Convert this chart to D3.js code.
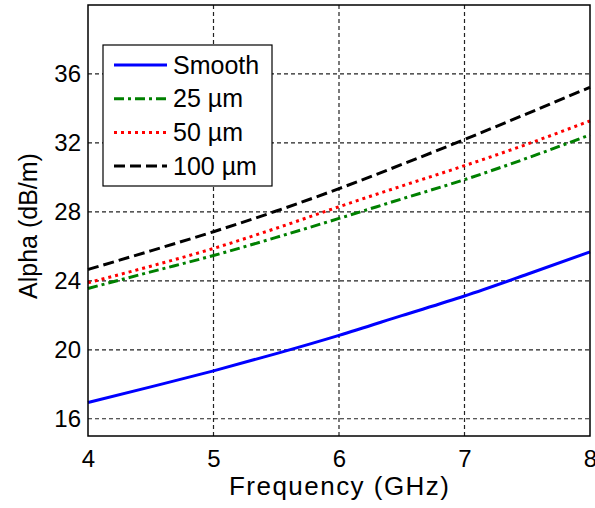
<!DOCTYPE html>
<html>
<head>
<meta charset="utf-8">
<script src="https://cdn.jsdelivr.net/npm/d3@7"></script>
<style>
  body { margin: 0; background: #fff; }
  text { font-family: Arial, "Liberation Sans", sans-serif; fill: #000; }
</style>
</head>
<body>
<div id="chart"></div>
<script>
// frequency (GHz)
var freq = [4, 4.5, 5, 5.5, 6, 6.5, 7, 7.5, 8];
// alpha (dB/m)
var smooth = [16.94, 17.85, 18.78, 19.78, 20.84, 21.98, 23.12, 24.38, 25.68];
var um25   = [23.56, 24.52, 25.47, 26.52, 27.62, 28.75, 29.87, 31.12, 32.47];
var um50   = [23.89, 24.85, 25.88, 27.05, 28.3, 29.5, 30.68, 31.93, 33.28];
var um100  = [24.66, 25.74, 26.85, 28.05, 29.35, 30.75, 32.2, 33.7, 35.23];

var seriesNames = ["Smooth", "25 µm", "50 µm", "100 µm"];
var xTicks = [4, 5, 6, 7, 8];
var yTicks = [16, 20, 24, 28, 32, 36];

var series = [
  {name: seriesNames[0], values: smooth, color: "#0000ff", dash: null},
  {name: seriesNames[1], values: um25, color: "#008000", dash: "10,4,3,4"},
  {name: seriesNames[2], values: um50, color: "#ff0000", dash: "3,4"},
  {name: seriesNames[3], values: um100, color: "#000000", dash: "11,5"}
];

var W = 595, H = 508;
var margin = {top: 5, right: 5, bottom: 72, left: 88};
var width = W - margin.left - margin.right,
    height = H - margin.top - margin.bottom;

var svg = d3.select("#chart").append("svg")
  .attr("width", W)
  .attr("height", H);

var g = svg.append("g")
  .attr("transform", "translate(" + margin.left + "," + margin.top + ")");

var x = d3.scaleLinear().domain([4, 8]).range([0, width]);
var y = d3.scaleLinear().domain([15, 40]).range([height, 0]);

// grid
g.append("g").selectAll("line")
  .data(xTicks.slice(1, -1))
  .enter().append("line")
    .attr("x1", d => x(d)).attr("x2", d => x(d))
    .attr("y1", 0).attr("y2", height)
    .style("stroke", "#222").style("stroke-width", 1.2)
    .style("stroke-dasharray", "4,3");

g.append("g").selectAll("line")
  .data(yTicks)
  .enter().append("line")
    .attr("x1", 0).attr("x2", width)
    .attr("y1", d => y(d)).attr("y2", d => y(d))
    .style("stroke", "#222").style("stroke-width", 1.2)
    .style("stroke-dasharray", "4,3");

// axes
var xAxis = g.append("g")
  .attr("transform", "translate(0," + height + ")")
  .call(d3.axisBottom(x).tickValues(xTicks).tickFormat(d3.format("d")).tickSize(0).tickPadding(14));
xAxis.select(".domain").remove();
xAxis.selectAll("text").style("font-size", "24px").style("fill", "#000");

var yAxis = g.append("g")
  .call(d3.axisLeft(y).tickValues(yTicks).tickSize(0).tickPadding(7));
yAxis.select(".domain").remove();
yAxis.selectAll("text").style("font-size", "24px").style("fill", "#000");

// lines
var line = d3.line()
  .x((d, i) => x(freq[i]))
  .y(d => y(d))
  .curve(d3.curveMonotoneX);

g.selectAll(".series")
  .data(series)
  .enter().append("path")
    .attr("class", "series")
    .attr("d", d => line(d.values))
    .style("fill", "none")
    .style("stroke", d => d.color)
    .style("stroke-width", 3)
    .style("stroke-dasharray", d => d.dash);

// frame
g.append("rect")
  .attr("width", width).attr("height", height)
  .style("fill", "none").style("stroke", "#000").style("stroke-width", 1.5);

// legend
var legend = g.append("g").attr("transform", "translate(15,40)");
legend.append("rect")
  .attr("width", 169).attr("height", 141)
  .style("fill", "#fff").style("stroke", "#000").style("stroke-width", 1.2);

var item = legend.selectAll(".item")
  .data(series)
  .enter().append("g")
    .attr("class", "item")
    .attr("transform", (d, i) => "translate(0," + (20 + i * 33.7) + ")");

item.append("line")
  .attr("x1", 11).attr("x2", 64)
  .style("stroke", d => d.color)
  .style("stroke-width", 3)
  .style("stroke-dasharray", d => d.dash);

item.append("text")
  .attr("x", 70).attr("dy", "0.35em")
  .style("font-size", "25px")
  .text(d => d.name);

// axis labels
svg.append("text")
  .attr("x", margin.left + width / 2)
  .attr("y", 495)
  .attr("text-anchor", "middle")
  .style("font-size", "26px")
  .attr("textLength", 220)
  .text("Frequency (GHz)");

svg.append("text")
  .attr("transform", "translate(37,226) rotate(-90)")
  .attr("text-anchor", "middle")
  .style("font-size", "25px")
  .text("Alpha (dB/m)");
</script>
</body>
</html>
